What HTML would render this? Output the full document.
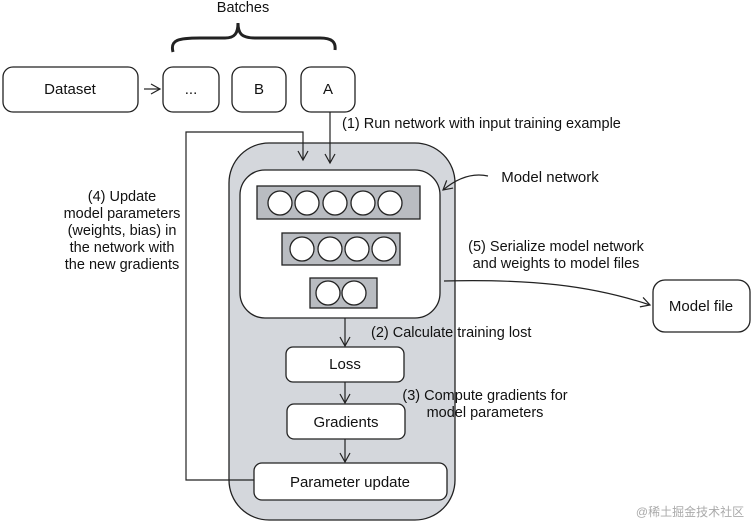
<!DOCTYPE html>
<html><head><style>
html,body{margin:0;padding:0;background:#fff;}
svg text{font-family:"Liberation Sans",sans-serif;}
.h{font-family:"Comic Sans MS","DejaVu Sans",sans-serif;font-size:15px;}
</style></head><body>
<svg width="752" height="525" viewBox="0 0 752 525" xmlns="http://www.w3.org/2000/svg">
<defs><marker id="a" markerWidth="12" markerHeight="12" refX="10" refY="6" orient="auto" markerUnits="userSpaceOnUse"><path d="M1,1 L10,6 L1,11" fill="none" stroke="#222" stroke-width="1.2"/></marker></defs>
<g stroke="#222" stroke-width="1.3" fill="#fff">
<rect x="3" y="67" width="135" height="45" rx="10"/>
<rect x="163" y="67" width="56" height="45" rx="10"/>
<rect x="232" y="67" width="54" height="45" rx="10"/>
<rect x="301" y="67" width="54" height="45" rx="10"/>
<rect x="229" y="143" width="226" height="377" rx="40" fill="#d4d7dc"/>
<rect x="240" y="170" width="200" height="148" rx="25"/>
<rect x="257" y="186" width="163" height="33" fill="#b9bcc1"/>
<rect x="282" y="233" width="118" height="32" fill="#b9bcc1"/>
<rect x="310" y="278" width="67" height="30" fill="#b9bcc1"/>
<circle cx="280" cy="203" r="12"/><circle cx="307" cy="203" r="12"/><circle cx="335" cy="203" r="12"/><circle cx="363" cy="203" r="12"/><circle cx="390" cy="203" r="12"/>
<circle cx="302" cy="249" r="12"/><circle cx="330" cy="249" r="12"/><circle cx="357" cy="249" r="12"/><circle cx="384" cy="249" r="12"/>
<circle cx="328" cy="293" r="12"/><circle cx="354" cy="293" r="12"/>
<rect x="286" y="347" width="118" height="35" rx="7"/>
<rect x="287" y="404" width="118" height="35" rx="7"/>
<rect x="254" y="463" width="193" height="37" rx="8"/>
<rect x="653" y="280" width="97" height="52" rx="12"/>
</g>
<g stroke="#222" stroke-width="1.2" fill="none">
<path d="M173,52 C170,40 178,38 200,38 L225,38 C235,38 238,33 238,23 C238,33 241,38 255,38 L320,38 C332,38 336,42 335,50" stroke-width="3"/>
<path d="M144,89 L160,89" marker-end="url(#a)"/>
<path d="M330,112 L330,163" marker-end="url(#a)"/>
<path d="M254,480 L186,480 L186,132 L303,132 L303,160" marker-end="url(#a)"/>
<path d="M345,318 L345,346" marker-end="url(#a)"/>
<path d="M345,382 L345,403" marker-end="url(#a)"/>
<path d="M345,439 L345,462" marker-end="url(#a)"/>
<path d="M444,281 C530,279 590,285 650,305" marker-end="url(#a)"/>
<path d="M488,176 C470,172 455,180 443,190" marker-end="url(#a)"/>
</g>
<g font-size="14.5" fill="#111">
<text x="243" y="12" text-anchor="middle">Batches</text>
<text x="342" y="128">(1) Run network with input training example</text>
<text x="122" y="201" text-anchor="middle">(4) Update</text>
<text x="122" y="218" text-anchor="middle">model parameters</text>
<text x="122" y="235" text-anchor="middle">(weights, bias) in</text>
<text x="122" y="252" text-anchor="middle">the network with</text>
<text x="122" y="269" text-anchor="middle">the new gradients</text>
<text x="556" y="251" text-anchor="middle">(5) Serialize model network</text>
<text x="556" y="268" text-anchor="middle">and weights to model files</text>
<text x="371" y="337">(2) Calculate training lost</text>
<text x="485" y="400" text-anchor="middle">(3) Compute gradients for</text>
<text x="485" y="417" text-anchor="middle">model parameters</text>
</g>
<g class="h" fill="#111" text-anchor="middle">
<text x="70" y="94">Dataset</text>
<text x="191" y="94">...</text>
<text x="259" y="94">B</text>
<text x="328" y="94">A</text>
<text x="550" y="182" text-anchor="middle">Model network</text>
<text x="345" y="369">Loss</text>
<text x="346" y="427">Gradients</text>
<text x="350" y="487">Parameter update</text>
<text x="701" y="311">Model file</text>
</g>
<text x="690" y="516" font-size="12" fill="#aaa" text-anchor="middle" style="font-family:'Liberation Sans','Noto Sans CJK SC',sans-serif">@稀土掘金技术社区</text>
</svg>
</body></html>
